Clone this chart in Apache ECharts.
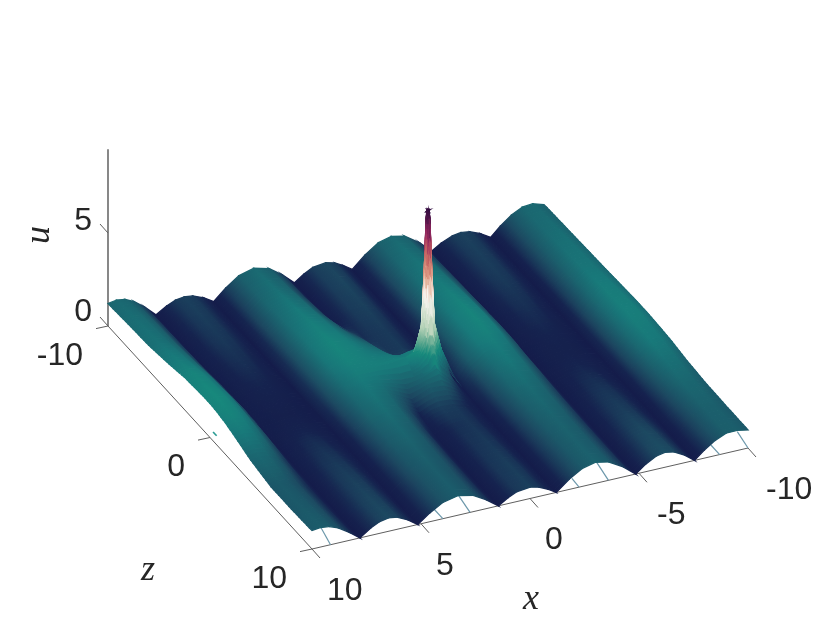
<!DOCTYPE html>
<html>
<head>
<meta charset="utf-8">
<title>u(x,z)</title>
<style>
  html, body { margin: 0; padding: 0; background: #fff; }
  #chart { width: 830px; height: 623px; }
</style>
<script src="https://cdn.jsdelivr.net/npm/echarts@6/dist/echarts.min.js"></script>
</head>
<body>
<div id="chart"></div>
<script>
// heights, left to right is x = 10 .. -10
const xNodes = [10, 9.6, 9.2, 8.8, 8.3, 7.8, 7.3, 6.9, 6.5, 6.1, 5.6, 5.15, 4.6, 4, 3.3, 2.6, 2, 1.45, 1, 0.6, 0, -0.4, -0.8, -1.2,
  -1.8, -2.4, -3, -3.6, -4.3, -4.85, -5.3, -5.8, -6.2, -6.6, -7.1, -7.55, -8, -8.5, -9, -9.5, -10];
const zNodes = [-10, -8, -6, -4, -2.5, -1.5, -0.7, 0, 0.7, 1.5, 2.5, 4, 6, 8, 10];
const uGrid = [
  [1.21,1.29,1.21,.99,.54,0, .35,.55,.62,.56,.32,0, .58,1.07,1.29,1.07,.58,0, .36,.6,.69,.57,.32,0, .63,1.11,1.29,1.14,.59,0, .32,.56,.63,.56,.32,0, .49,.94,1.23,1.28,1.1],
  [1.3,1.38,1.3,1.06,.58,0, .32,.51,.58,.52,.3,0, .63,1.16,1.4,1.16,.63,.03, .35,.58,.67,.55,.31,0, .7,1.22,1.42,1.25,.65,0, .3,.53,.6,.53,.3,0, .52,.99,1.29,1.35,1.15],
  [1.36,1.45,1.36,1.12,.61,0, .29,.46,.52,.47,.27,0, .71,1.31,1.58,1.35,.8,.15, .36,.55,.61,.5,.29,0, .77,1.36,1.58,1.39,.73,0, .28,.49,.55,.49,.28,0, .56,1.07,1.4,1.44,1.2],
  [1.55,1.65,1.55,1.27,.69,0, .24,.37,.42,.38,.21,0, .79,1.45,1.75,1.55,1.15,.75, .42,.5,.55,.45,.25,0, .86,1.5,1.75,1.54,.8,0, .23,.41,.46,.41,.23,0, .61,1.17,1.52,1.5,1.25],
  [1.74,1.85,1.74,1.42,.78,.02, .18,.28,.32,.29,.16,.02, .83,1.54,1.85,1.7,1.42,1.15, .7,.5,.55,.42,.23,.02, .91,1.59,1.85,1.63,.85,0, .19,.34,.38,.34,.19,0, .65,1.26,1.63,1.6,1.3],
  [1.79,1.9,1.79,1.46,.8,.03, .14,.22,.25,.23,.13,.03, .83,1.54,1.85,1.75,1.55,1.4, 1.05,.7,.62,.5,.28,.05, .95,1.6,1.85,1.63,.85,0, .16,.28,.32,.28,.16,0, .68,1.3,1.69,1.65,1.33],
  [1.83,1.95,1.83,1.5,.82,.04, .12,.18,.2,.18,.11,.03, .81,1.5,1.8,1.75,1.65,1.6, 1.5,1.6,1.75,1.5,.9,.1, 1,1.6,1.8,1.6,.83,0, .14,.25,.28,.25,.14,0, .68,1.31,1.71,1.68,1.35],
  [1.83,1.95,1.83,1.5,.82,.05, .11,.16,.18,.16,.1,.03, .77,1.41,1.7,1.72,1.72,1.75, 1.8,2,9.5,2.9,1.3,.15, 1.05,1.55,1.7,1.5,.78,0, .13,.22,.25,.22,.13,0, .69,1.33,1.73,1.7,1.35],
  [1.79,1.9,1.79,1.46,.8,.05, .12,.19,.22,.2,.11,.03, .72,1.33,1.6,1.5,1.35,1.2, 1.2,1.3,1.7,1.1,.6,.1, .9,1.4,1.6,1.41,.74,0, .14,.25,.28,.25,.14,0, .68,1.31,1.71,1.68,1.33],
  [1.69,1.8,1.69,1.39,.76,.03, .17,.26,.3,.27,.15,.02, .68,1.25,1.5,1.3,.95,.6, .8,1,.95,.7,.38,.05, .76,1.33,1.55,1.36,.71,0, .17,.29,.33,.29,.17,0, .67,1.28,1.66,1.62,1.3],
  [1.5,1.6,1.5,1.23,.67,.02, .22,.35,.4,.36,.2,.01, .63,1.16,1.4,1.18,.7,.25, .5,.6,.55,.42,.24,.02, .7,1.22,1.42,1.25,.65,0, .2,.36,.4,.36,.2,0, .65,1.24,1.62,1.55,1.25],
  [1.18,1.25,1.18,.96,.53,0, .28,.44,.5,.45,.26,0, .56,1.04,1.25,1.04,.57,.05, .26,.43,.5,.41,.23,0, .63,1.1,1.28,1.13,.59,0, .25,.45,.5,.45,.25,0, .57,1.1,1.43,1.4,1.1],
  [.94,1,.94,.77,.42,0, .34,.53,.6,.54,.31,0, .5,.93,1.12,.93,.5,0, .28,.47,.54,.45,.25,0, .57,1.01,1.17,1.03,.54,0, .3,.53,.6,.53,.3,0, .49,.93,1.22,1.2,1],
  [.94,1,.94,.77,.42,0, .38,.59,.67,.6,.34,0, .47,.87,1.05,.87,.47,0, .31,.51,.59,.49,.28,0, .55,.96,1.12,.99,.52,0, .36,.64,.72,.64,.36,0, .44,.84,1.09,1.1,.97],
  [.99,1.05,.99,.81,.44,0, .4,.63,.72,.65,.37,0, .47,.87,1.05,.87,.47,0, .32,.53,.61,.5,.29,0, .55,.97,1.13,.99,.52,0, .4,.71,.8,.71,.4,0, .43,.82,1.07,1.08,.97]
];

// finer table round the spike, it replaces the coarse cells it covers
const spikeX = [1, 0.6, 0.26, 0.15, 0.075, 0.038, 0, -0.038, -0.075, -0.15, -0.26, -0.6, -0.8];
const spikeZ = [-0.7, -0.3, -0.16, -0.075, -0.038, 0, 0.038, 0.075, 0.16, 0.3, 0.7];
const spikeGrid = [
  [1.5,1.6,1.65,1.7,1.72,1.74,1.75,1.74,1.72,1.68,1.55,1.2,.9],
  [1.6,1.75,2.1,2.5,2.85,2.9,2.9,2.9,2.85,2.5,2.05,1.5,1.05],
  [1.7,1.9,2.85,4.4,5.6,5.9,6,5.9,5.6,4.4,2.8,1.75,1.2],
  [1.75,1.95,3.3,5.9,8,8.8,9.1,8.8,8,5.9,3.25,1.8,1.25],
  [1.78,1.97,3.45,6.35,8.8,9.45,9.5,9.45,8.8,6.35,3.4,1.85,1.28],
  [1.8,2,3.5,6.5,9.1,9.5,9.5,9.5,9.1,6.5,3.5,1.85,1.3],
  [1.75,1.95,3.4,6.35,8.8,9.45,9.5,9.45,8.8,6.35,3.35,1.8,1.25],
  [1.7,1.9,3.2,5.9,8,8.8,9.1,8.8,8,5.9,3.2,1.7,1.15],
  [1.55,1.75,2.75,4.4,5.6,5.9,6,5.9,5.6,4.4,2.7,1.5,.98],
  [1.35,1.55,2.05,2.5,2.85,2.9,2.9,2.9,2.8,2.45,1.9,1.25,.78],
  [1.2,1.3,1.4,1.55,1.65,1.68,1.7,1.65,1.55,1.4,1.2,.85,.6]
];

const xTicks = [10, 5, 0, -5, -10];
const zTicks = [-10, 0, 10];
const uTicks = [0, 5];
const uTop = 9.5;

// the short blue lines seen under the arches of the front edge
const stemX = [9.15, 4, 2.75, -2.25, -3.6, -8.7, -10];
const stemDepth = [1, 0.85, 1.2, 0.7, 1.25, 0.95, 1.05];
const stemU = [0.38, 0, 0.25, 0.05, 0.3, 0, 0.25];

const colorStops = [0, 0.3, 0.7, 1.1, 1.6, 2.0, 2.5, 3.2, 4.8, 5.8, 6.8, 8, 9.5];
const colorList = ['#141c4a', '#15224e', '#1c4760', '#1b5f6c', '#18797a', '#178a7c', '#5fa88f', '#b7d3b8', '#f8f4f0', '#e2ab90', '#c96a62', '#98285f', '#2f0b3f'];

// projection, z = 10 x = 10 u = 0 corner and what one unit does on screen
const corner = [312, 549];
const xStep = [-21.8, 5.05];
const zStep = [10.2, 11.15];
const uStep = [0, -18.6];

function project(x, z, u) {
  return [
    corner[0] + (x - 10) * xStep[0] + (z - 10) * zStep[0] + u * uStep[0],
    corner[1] + (x - 10) * xStep[1] + (z - 10) * zStep[1] + u * uStep[1]
  ];
}

const stopRgb = colorList.map(function (c) {
  return [parseInt(c.slice(1, 3), 16), parseInt(c.slice(3, 5), 16), parseInt(c.slice(5, 7), 16)];
});
function colorOf(u) {
  let k = 0;
  while (k < colorStops.length - 2 && u > colorStops[k + 1]) k++;
  const t = Math.max(0, Math.min(1, (u - colorStops[k]) / (colorStops[k + 1] - colorStops[k])));
  const a = stopRgb[k], b = stopRgb[k + 1];
  return 'rgb(' + Math.round(a[0] + (b[0] - a[0]) * t) + ',' + Math.round(a[1] + (b[1] - a[1]) * t) + ',' + Math.round(a[2] + (b[2] - a[2]) * t) + ')';
}

// quads in painter order, far corner first. each table cell is only split for
// the colour blend, same thing as shading interp
const quads = [];
function addCell(xa, xb, za, zb, uaa, uba, uab, ubb, nx, nz) {
  function at(s, t) {
    const u = (uaa * (1 - s) + uba * s) * (1 - t) + (uab * (1 - s) + ubb * s) * t;
    return [xa + (xb - xa) * s, za + (zb - za) * t, u];
  }
  for (let i = 0; i < nx; i++) {
    for (let j = 0; j < nz; j++) {
      const p = [at(i / nx, j / nz), at((i + 1) / nx, j / nz), at((i + 1) / nx, (j + 1) / nz), at(i / nx, (j + 1) / nz)];
      const pts = p.map(function (q) { return project(q[0], q[1], q[2]); });
      const uFar = (p[0][2] + p[3][2]) / 2, uNear = (p[1][2] + p[2][2]) / 2;
      // blend runs across the strip, square to its long edge
      const ex = pts[3][0] - pts[0][0], ey = pts[3][1] - pts[0][1];
      const nxv = -ey, nyv = ex;
      const k = ((pts[1][0] - pts[0][0]) * nxv + (pts[1][1] - pts[0][1]) * nyv) / (nxv * nxv + nyv * nyv || 1);
      quads.push({
        pts: pts,
        from: [(pts[0][0] + pts[3][0]) / 2, (pts[0][1] + pts[3][1]) / 2],
        vec: [nxv * k, nyv * k],
        c0: colorOf(uFar), c1: colorOf((uFar + uNear) / 2), c2: colorOf(uNear)
      });
    }
  }
}
function addSpike() {
  for (let c = spikeX.length - 2; c >= 0; c--) {
    for (let r = 0; r < spikeZ.length - 1; r++) {
      addCell(spikeX[c + 1], spikeX[c], spikeZ[r], spikeZ[r + 1],
        spikeGrid[r][c + 1], spikeGrid[r][c], spikeGrid[r + 1][c + 1], spikeGrid[r + 1][c], 3, 3);
    }
  }
}
for (let c = xNodes.length - 2; c >= 0; c--) {
  for (let r = 0; r < zNodes.length - 1; r++) {
    const inSpike = xNodes[c] <= 1 && xNodes[c + 1] >= -0.8 && zNodes[r] >= -0.7 && zNodes[r + 1] <= 0.7;
    if (inSpike) {
      if (c === 18 && r === 7) addSpike();
      continue;
    }
    const nz = Math.ceil((zNodes[r + 1] - zNodes[r]) / 0.25);
    addCell(xNodes[c + 1], xNodes[c], zNodes[r], zNodes[r + 1],
      uGrid[r][c + 1], uGrid[r][c], uGrid[r + 1][c + 1], uGrid[r + 1][c], 1, nz);
  }
}

// axis lines and ticks
const axisSegs = [];
const axisGrey = '#5f5f5f';
function seg(a, b, color, width) { axisSegs.push({ a: a, b: b, color: color, width: width }); }
function shift(p, dx, dy) { return [p[0] + dx, p[1] + dy]; }
seg(project(10, -10, 0), project(10, 10, 0), axisGrey, 1);
seg(project(10, 10, 0), project(-10, 10, 0), axisGrey, 1);
seg(project(10, -10, 0), project(10, -10, uTop), '#262626', 1.1);
xTicks.forEach(function (v) { const p = project(v, 10, 0); seg(p, shift(p, 8, 9), axisGrey, 1); });
zTicks.forEach(function (v) { const p = project(10, v, 0); seg(p, shift(p, -12, 2.6), axisGrey, 1); });
uTicks.forEach(function (v) { const p = project(10, -10, v); seg(p, shift(p, -8, -9), axisGrey, 1); });

const stemSegs = stemX.map(function (v, i) {
  return { a: project(v, 10, 0), b: project(v, 10 - stemDepth[i], stemU[i]), color: '#6b97aa', width: 1.2 };
});
stemSegs.push({ a: project(10, 0.3, 0.48), b: project(10, 0.65, 0.48), color: '#2a9c94', width: 1.6 });

// tick labels and axis names
const texts = [];
const tickFont = { fontFamily: 'Liberation Sans', fontSize: 32, fill: '#262626' };
xTicks.forEach(function (v) {
  const p = project(v, 10, 0);
  texts.push({ s: String(v), x: p[0] + (v < 0 ? 18 : 15), y: p[1] + 42, align: 'left', font: tickFont });
});
zTicks.forEach(function (v) {
  const p = project(10, v, 0);
  texts.push({ s: String(v), x: p[0] - 25, y: p[1] + 30, align: 'right', font: tickFont });
});
uTicks.forEach(function (v) {
  const p = project(10, -10, v);
  texts.push({ s: String(v), x: p[0] - 16, y: p[1] - (v ? 12 : 14), align: 'right', font: tickFont });
});
const nameFont = { fontFamily: 'Liberation Serif', fontStyle: 'italic', fontSize: 36, fill: '#262626' };
texts.push({ s: 'x', x: 531, y: 600, align: 'center', font: nameFont });
texts.push({ s: 'z', x: 148, y: 571, align: 'center', font: nameFont });
texts.push({ s: 'u', x: 40, y: 235, align: 'center', font: nameFont, rotation: Math.PI / 2 });

function lineSeries(name, segs, z) {
  return {
    name: name, type: 'custom', coordinateSystem: 'cartesian2d', z: z, silent: true, animation: false, clip: false,
    data: segs.map(function (d, i) { return [i]; }),
    renderItem: function (params, api) {
      const s = segs[params.dataIndex], a = api.coord(s.a), b = api.coord(s.b);
      return { type: 'line', shape: { x1: a[0], y1: a[1], x2: b[0], y2: b[1] }, style: { stroke: s.color, lineWidth: s.width } };
    }
  };
}

const chart = echarts.init(document.getElementById('chart'));
chart.setOption({
  backgroundColor: '#fff',
  animation: false,
  grid: { left: 0, right: 0, top: 0, bottom: 0 },
  xAxis: { type: 'value', min: 0, max: 830, show: false },
  yAxis: { type: 'value', min: 0, max: 623, inverse: true, show: false },
  series: [
    lineSeries('axes', axisSegs, 1),
    lineSeries('stems', stemSegs, 2),
    {
      name: 'u', type: 'custom', coordinateSystem: 'cartesian2d', z: 3, silent: true, animation: false, clip: false,
      progressive: 0,
      data: quads.map(function (d, i) { return [i]; }),
      renderItem: function (params, api) {
        const q = quads[params.dataIndex];
        const a = api.coord(q.from);
        const blend = new echarts.graphic.LinearGradient(a[0], a[1], a[0] + q.vec[0], a[1] + q.vec[1], [
          { offset: 0, color: q.c0 }, { offset: 0.5, color: q.c1 }, { offset: 1, color: q.c2 }
        ], true);
        return {
          type: 'polygon',
          shape: { points: q.pts.map(function (p) { return api.coord(p); }) },
          style: { fill: blend, stroke: blend, lineWidth: 1.3 }
        };
      }
    },
    {
      name: 'labels', type: 'custom', coordinateSystem: 'cartesian2d', z: 4, silent: true, animation: false, clip: false,
      data: texts.map(function (d, i) { return [i]; }),
      renderItem: function (params, api) {
        const t = texts[params.dataIndex], c = api.coord([t.x, t.y]);
        return {
          type: 'text', x: c[0], y: c[1], rotation: t.rotation || 0,
          style: Object.assign({ text: t.s, textAlign: t.align, textVerticalAlign: 'middle' }, t.font)
        };
      }
    }
  ]
});
</script>
</body>
</html>
